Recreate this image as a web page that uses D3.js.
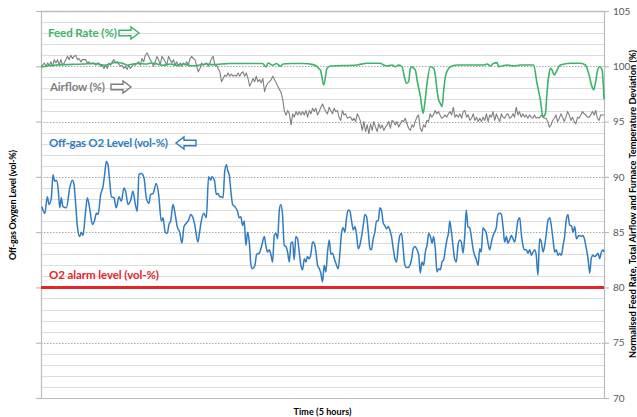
<!DOCTYPE html>
<html>
<head>
<meta charset="utf-8">
<script src="https://cdn.jsdelivr.net/npm/d3@7"></script>
<style>
  html, body { margin: 0; padding: 0; background: #ffffff; }
  svg text { font-family: Lato, "Open Sans", sans-serif; }
</style>
</head>
<body>
<div id="chart"></div>
<script>
// Step 1: Data
// =================================
// time is in minutes over the 5 hour window, values in % of the right axis
var seriesLabels = ["Feed Rate (%)", "Airflow (%)", "Off-gas O2 Level (vol-%)", "O2 alarm level (vol-%)"];
var axisTitles = {
  x: "Time (5 hours)",
  left: "Off-gas Oxygen Level (vol-%)",
  right: "Normalised Feed Rate, Total Airflow and Furnace Temperature Deviation (%)"
};
var yTicks = [70, 75, 80, 85, 90, 95, 100, 105];
var timeSpan = [0, 300];
var alarmLevel = 80;

// Feed rate: [minute, %]
var feedRate = [
  [0,99.95],[2,99.98],[4,100.05],[7,100.1],[12,100.15],[18,100.18],[23,100.2],[27,100.25],[30,100.2],
  [34,100.1],[37,100.2],[39,100.35],[43,100.3],[46,100.1],[49,100.2],[52,100.25],[56,100.2],[59,100.3],
  [62,100.2],[65,100.1],[69,100.2],[72,100.1],[76,100.2],[80,100.05],[84,100.1],[88,100.2],[92,100.15],
  [96,100.2],[100,100.25],[110,100.25],[118,100.25],[120,99.95],[121,100.3],[123.5,100.1],[125.5,100.25],
  [127.5,100.0],[129,100.2],[133,100.25],[140,100.25],[145,100.15],[147.1,99.96],[148,99.81],[148.9,99.66],
  [150.7,98.31],[152.4,99.81],[154.2,100.03],[168.4,100.12],[173.7,100.27],[180.8,100.27],[182.6,100.12],
  [184.4,100.03],[187.1,100.12],[188.8,99.96],[190.6,100.12],[192.4,99.96],[193.6,99.06],[194.7,98.46],
  [195.9,98.61],[196.8,99.81],[197.7,99.96],[198.6,99.81],[199.5,99.66],[200.4,98.76],[202.2,97.25],
  [203.6,95.74],[204.5,96.65],[205.7,98.46],[207.5,99.96],[209.3,99.81],[210.1,99.21],[211,97.86],
  [211.9,96.95],[212.8,96.65],[213.7,96.35],[214.6,97.86],[215.5,99.06],[216.7,99.66],[218.1,99.96],
  [221.7,100.12],[228.8,100.12],[235.9,100.12],[237.7,100.21],[239.5,100.03],[241.2,100.27],[243,100.33],
  [243.9,99.96],[245.7,100.03],[248.3,100.12],[251.9,100.03],[255.4,100.12],[262.5,100.12],[264.3,98.46],
  [266.1,96.95],[267.5,95.44],[268.8,95.74],[269.6,97.55],[270.5,99.06],[271.4,99.81],[272.3,99.66],
  [273.5,99.21],[275,99.66],[276.7,100.12],[282.1,100.27],[287.4,100.27],[290.1,100.12],[291.8,99.36],
  [293.6,98.16],[294.5,97.86],[295.4,98.46],[296.6,99.66],[297.7,99.96],[299,99.66],[300,97.0]
];

// Airflow: evenly spaced samples across the 5 hours, %
var airflow = [
  100.0,100.1,100.3,100.0,100.3,100.1,100.4,100.0,100.6,100.3,100.6,100.1,100.6,100.1,100.3,100.6,
  100.9,100.6,101.0,100.7,100.9,101.0,100.6,100.7,100.4,100.6,100.6,100.6,100.3,100.4,100.2,100.3,
  100.3,100.1,100.3,100.3,100.0,100.1,99.8,100.1,99.8,100.3,100.1,100.4,100.6,100.3,100.4,100.2,
  100.0,100.1,99.8,100.0,99.7,100.1,99.8,100.0,100.2,100.1,100.3,100.4,100.1,100.7,100.4,101.0,
  101.2,100.9,100.6,100.3,100.0,100.4,100.9,100.6,100.1,100.9,100.7,100.4,100.1,100.9,100.6,100.3,
  100.6,100.1,100.4,100.0,100.3,100.0,100.3,100.1,100.4,100.1,100.7,100.9,100.7,100.6,100.0,99.5,
  99.8,100.3,100.1,100.2,100.3,100.0,100.3,100.7,100.9,100.1,100.1,99.8,99.5,98.6,98.9,99.2,99.1,
  99.4,99.1,99.3,99.1,99.2,99.1,99.4,99.1,99.4,99.5,99.1,99.4,98.9,98.2,98.5,98.9,98.6,99.1,98.6,
  98.8,98.5,98.9,97.7,98.2,98.5,98.6,98.8,99.1,98.8,98.5,98.2,97.9,97.6,97.0,95.9,95.6,96.0,95.7,
  94.7,95.7,95.4,95.9,95.6,95.9,95.6,95.9,95.6,96.0,95.4,96.0,95.7,96.2,95.9,96.2,95.6,95.9,96.3,
  96.6,96.2,95.9,95.7,96.3,96.0,95.7,96.2,95.9,96.0,95.4,95.1,96.0,95.6,95.7,95.3,95.4,95.4,95.1,
  95.3,95.0,95.7,95.4,95.0,94.2,95.0,94.1,94.7,93.9,94.8,94.2,95.0,94.5,94.1,94.8,94.4,94.7,94.2,
  94.5,94.7,95.0,94.4,95.1,95.0,94.7,95.0,94.5,94.8,95.1,95.0,95.3,94.8,94.4,94.2,94.7,94.5,95.0,
  95.4,95.6,94.4,94.1,94.7,94.5,95.1,95.0,95.7,95.4,95.6,96.0,95.7,95.9,95.6,95.3,95.4,95.6,95.4,
  95.7,95.9,95.6,96.3,95.4,95.6,95.4,95.7,95.3,95.9,96.0,95.4,95.6,95.1,95.3,95.7,95.1,95.4,95.0,
  95.3,95.0,95.4,95.1,95.7,95.0,95.6,95.4,95.9,95.1,95.7,95.3,95.0,95.7,95.4,95.3,95.6,95.7,95.3,
  95.4,95.7,95.4,96.3,95.6,95.9,95.4,95.7,95.4,95.6,95.3,95.6,95.4,95.3,95.6,95.3,95.4,95.3,95.6,
  95.4,95.3,95.3,95.0,94.5,94.7,95.1,95.3,95.6,95.0,95.3,95.7,95.4,95.0,95.4,95.9,95.6,95.1,95.4,
  95.0,94.8,95.4,95.3,95.6,95.9,95.7,95.6,95.4,95.4,95.6,95.9,95.6,96.0,95.3,95.1,95.6,95.6,95.6
];

// Off-gas O2 level: [minute, value on the shared scale]
var o2Level = [
  [0.5,87.3],[2,86.7],[3.4,88.2],[4.3,87.5],[5.5,88.1],[6.4,90.2],[7.3,89.6],[8.2,89.7],[9.1,89.0],
  [10,87.2],[10.8,88.1],[11.7,87.3],[13.5,87.2],[15.3,89.0],[16.7,89.7],[17.6,89.3],[18.5,87.5],[19.4,85.5],
  [20.6,84.6],[21.5,85.0],[22.4,84.7],[23.6,86.6],[24.7,88.1],[25.9,87.2],[27.4,85.7],[28.6,86.1],[29.5,86.7],
  [30.4,86.6],[31.8,88.4],[33,89.1],[33.9,90.2],[34.8,91.4],[35.7,91.1],[36.6,89.6],[37.5,88.2],[38.9,88.1],
  [40.1,87.2],[41.6,88.2],[42.8,87.8],[44.2,89.0],[45.1,88.7],[46.4,87.5],[47.8,87.9],[49,88.7],[50.3,87.5],
  [51.3,86.9],[52.2,90.2],[53.5,90.3],[54.9,89.9],[56.1,88.1],[57.5,87.6],[58.4,88.4],[59.7,88.5],[61.4,89.4],
  [62.7,88.4],[64.1,86.0],[65,86.3],[66.2,85.0],[67.3,84.9],[68.2,85.7],[69.1,86.0],[70.3,87.5],[71.2,86.9],
  [72.6,85.5],[73.9,85.0],[75.1,84.0],[76.2,85.5],[77.4,85.8],[78.7,86.1],[79.7,86.6],[81,86.3],[81.9,85.7],
  [83.6,84.1],[84.5,85.0],[85.4,86.0],[86.8,86.7],[88.1,86.3],[89.3,90.0],[90.4,89.7],[91.1,90.0],[92.5,89.6],
  [93.4,88.4],[94.3,88.5],[95.2,88.2],[96.1,88.2],[97,88.1],[97.9,90.5],[98.8,91.1],[99.6,90.5],
  [100.3,90.2],[101.2,88.7],[102.1,87.5],[103.3,87.3],[104.7,86.9],[105.6,86.3],[106.5,86.4],[107.4,85.6],
  [108.3,86.0],[109.2,83.8],[110.1,85.0],[111,84.1],[111.9,82.0],[112.7,81.7],[114,82.0],[114.9,83.0],
  [116.3,83.1],[117.5,83.7],[119,84.6],[119.8,83.8],[120.7,83.2],[121.6,83.4],[122.5,83.0],[123.4,82.3],
  [124.3,84.7],[125.2,84.9],[126.1,84.4],[127,87.0],[127.8,87.5],[128.7,86.6],[129.6,83.8],[130.5,83.7],
  [131.4,83.2],[132.3,82.3],[133.2,84.0],[134.1,84.1],[134.9,82.5],[135.8,84.6],[136.7,84.4],[137.6,83.2],
  [138.5,82.0],[139.4,81.6],[140.3,82.6],[141.2,82.3],[142,82.8],[142.9,82.6],[143.8,83.0],[144.7,84.1],
  [145.6,84.0],[146.5,83.2],[147.4,82.0],[148.3,81.7],[149.1,81.3],[150,80.5],[150.9,82.0],[151.8,81.4],
  [152.7,83.2],[153.6,84.3],[154.5,83.0],[155.4,83.1],[156.3,82.6],[157.1,82.2],[158.4,81.7],[159.3,83.2],
  [160.2,85.0],[161,85.4],[161.9,85.0],[162.8,86.3],[163.7,87.0],[164.6,86.9],[165.5,86.0],[166.4,85.2],
  [167.3,85.5],[168.2,84.7],[169,83.5],[169.9,83.8],[170.8,84.6],[171.7,85.6],[172.6,86.6],[173.5,86.4],
  [174.4,85.0],[175.3,83.5],[176.1,83.4],[177,84.4],[177.9,85.0],[178.8,86.0],[179.7,86.0],[180.6,87.2],
  [181.5,86.9],[182.4,85.8],[183.2,85.6],[184.1,85.3],[185,85.5],[185.9,85.2],[186.8,84.6],[187.7,83.5],
  [188.6,82.6],[189.5,82.3],[190.4,83.8],[191.2,84.7],[192.1,84.9],[193,83.5],[193.9,82.0],[194.8,81.8],
  [195.7,81.8],[196.6,82.0],[197.5,82.6],[198.3,83.5],[199.2,83.7],
  [200.4,83.4],[201.3,82.9],[202.1,81.3],[203,82.3],[203.9,82.0],[204.8,83.2],[205.7,83.8],[206.6,84.9],
  [207.5,84.6],[208.4,84.0],[209.2,84.6],[210.1,83.5],[211,81.4],[211.9,81.7],[212.8,81.6],[213.7,82.3],
  [214.6,82.5],[215.5,83.5],[216.3,84.3],[217.2,85.0],[217.8,86.0],[218.7,85.0],[219.5,83.8],[220.4,82.6],
  [221.3,82.3],[222.2,83.8],[223.1,84.3],[224,84.1],[224.9,83.1],[225.8,84.7],[226.6,87.0],[227.5,85.5],
  [228.4,85.4],[229.3,84.6],[230.2,83.5],[231.1,82.9],[232,82.5],[232.9,82.0],[233.8,83.5],[234.6,83.2],
  [235.5,85.4],[236.4,85.2],[237.3,84.9],[238.2,84.0],[239.1,83.4],[240,84.1],[240.9,84.7],[241.7,85.0],
  [242.6,85.4],[243.5,86.6],[244.4,86.7],[245.3,86.6],[246.2,85.5],[247.1,84.1],[248,84.6],[248.8,84.0],
  [249.7,84.3],[250.6,84.7],[251.5,84.4],[252.4,84.1],[253.3,85.0],[254.2,86.1],[255.1,86.3],[255.9,84.9],
  [256.8,83.8],[257.7,83.4],[258.6,83.4],[259.5,83.1],[260.4,83.4],[261.3,82.9],[262.2,83.2],[263.1,83.4],
  [263.9,82.9],[264.8,81.1],[265.7,84.4],[266.6,84.1],[267.5,83.2],[268.4,83.8],[269.3,84.9],[270.2,86.1],
  [271.1,86.3],[271.9,85.6],[272.8,84.4],[273.7,83.2],[274.6,83.4],[275.5,82.9],[276.4,83.1],[277.3,82.9],
  [278.2,83.8],[279,84.6],[279.9,86.1],[280.8,86.6],[281.7,85.6],[282.6,85.6],[283.5,85.0],[284.4,85.5],
  [285.3,84.4],[286.1,84.6],[287,84.7],[287.9,84.6],[288.8,84.7],[289.7,84.3],[290.6,83.5],[291.5,82.6],
  [292.4,81.3],[293.2,82.6],[294.1,82.9],[295,82.8],[295.9,82.9],[296.8,83.1],[297.7,82.6],[298.6,83.2],
  [299.5,83.4],[300,83.2]
];

// Step 2: Set up our chart
// =================================
var svgWidth  = 637;
var svgHeight = 417;

var margin = {
  top:    11,
  right:  33,
  bottom: 19,
  left:   41
};

var width  = svgWidth  - margin.left - margin.right;
var height = svgHeight - margin.top  - margin.bottom;

var colors = {
  feed:  "#3cb46a",
  air:   "#7f7f7f",
  o2:    "#2f7cc3",
  alarm: "#e5242b",
  grid:  "#dcdcdc",
  major: "#a9a9a9",
  axis:  "#bcbcbc",
  tick:  "#595959"
};

var svg = d3.select("#chart")
  .append("svg")
  .attr("width", svgWidth)
  .attr("height", svgHeight);

var svgGroup = svg.append("g")
  .attr("transform", `translate(${margin.left}, ${margin.top})`);

// Step 3: Scales
// =================================
var xScale = d3.scaleLinear()
  .domain(timeSpan)
  .range([0, width]);

var yScale = d3.scaleLinear()
  .domain([d3.min(yTicks), d3.max(yTicks)])
  .range([height, 0]);

var airIndex = d3.scaleLinear()
  .domain([0, airflow.length - 1])
  .range(timeSpan);

// Step 4: Gridlines (minor every 1 %, dotted major every 5 %)
// =================================
var minorTicks = d3.range(d3.min(yTicks), d3.max(yTicks) + 1, 1)
  .filter(v => yTicks.indexOf(v) < 0);

svgGroup.append("g")
  .selectAll("line")
  .data(minorTicks)
  .enter().append("line")
    .attr("x1", 0)
    .attr("x2", width)
    .attr("y1", d => Math.round(yScale(d)) + 0.5)
    .attr("y2", d => Math.round(yScale(d)) + 0.5)
    .attr("stroke", colors.grid)
    .attr("stroke-width", 1);

svgGroup.append("g")
  .selectAll("line")
  .data(yTicks.filter(v => v !== d3.min(yTicks) && v !== d3.max(yTicks)))
  .enter().append("line")
    .attr("x1", 0)
    .attr("x2", width)
    .attr("y1", d => Math.round(yScale(d)) + 0.5)
    .attr("y2", d => Math.round(yScale(d)) + 0.5)
    .attr("stroke", colors.major)
    .attr("stroke-width", 1)
    .attr("stroke-dasharray", "1.5,1.5");

// top border of the plot area
svgGroup.append("line")
  .attr("x1", 0)
  .attr("x2", width)
  .attr("y1", Math.round(yScale(d3.max(yTicks))) + 0.5)
  .attr("y2", Math.round(yScale(d3.max(yTicks))) + 0.5)
  .attr("stroke", colors.axis)
  .attr("stroke-width", 1.5);

// Step 5: Axes
// =================================
var leftAxis = d3.axisLeft(yScale)
  .tickValues(yTicks)
  .tickSize(5)
  .tickFormat("");

var rightAxis = d3.axisRight(yScale)
  .tickValues(yTicks)
  .tickSize(5)
  .tickPadding(4)
  .tickFormat(d3.format("d"));

var bottomAxis = d3.axisBottom(xScale)
  .tickValues([])
  .tickSizeOuter(0);

svgGroup.append("g")
  .attr("id", "yAxisLeft")
  .call(leftAxis);

svgGroup.append("g")
  .attr("id", "yAxisRight")
  .attr("transform", `translate(${width}, 0)`)
  .call(rightAxis);

svgGroup.append("g")
  .attr("id", "xAxis")
  .attr("transform", `translate(0, ${height})`)
  .call(bottomAxis);

svgGroup.selectAll(".domain, .tick line")
  .attr("stroke", colors.axis)
  .attr("stroke-width", 1.2);

svgGroup.selectAll("#yAxisRight text")
  .attr("fill", colors.tick)
  .style("font-size", "10px");

// Step 6: Series lines
// =================================
var pairLine = d3.line()
  .x(d => xScale(d[0]))
  .y(d => yScale(d[1]));

svgGroup.append("path")
  .datum(airflow)
  .attr("fill", "none")
  .attr("stroke", colors.air)
  .attr("stroke-width", 1.1)
  .attr("stroke-linejoin", "round")
  .attr("d", d3.line()
    .x((d, i) => xScale(airIndex(i)))
    .y(d => yScale(d)));

svgGroup.append("path")
  .datum(feedRate)
  .attr("fill", "none")
  .attr("stroke", colors.feed)
  .attr("stroke-width", 1.6)
  .attr("d", pairLine.curve(d3.curveMonotoneX));

svgGroup.append("path")
  .datum(o2Level)
  .attr("fill", "none")
  .attr("stroke", colors.o2)
  .attr("stroke-width", 1.5)
  .attr("d", pairLine.curve(d3.curveMonotoneX));

svgGroup.append("path")
  .datum(timeSpan.map(t => [t, alarmLevel]))
  .attr("fill", "none")
  .attr("stroke", colors.alarm)
  .attr("stroke-width", 3)
  .attr("d", pairLine.curve(d3.curveLinear));

// Step 7: In-plot labels with outline arrows
// =================================
function arrowPath(x0, yc, dir) {
  var shaft = 12, head = 8, sh = 2.8, hh = 6;
  var p = [
    [0, -sh], [shaft, -sh], [shaft, -hh], [shaft + head, 0],
    [shaft, hh], [shaft, sh], [0, sh]
  ];
  var len = shaft + head;
  return "M" + p.map(q => {
    var px = dir > 0 ? x0 + q[0] : x0 + len - q[0];
    return px + "," + (yc + q[1]);
  }).join("L") + "Z";
}

var labelInfo = [
  {text: seriesLabels[0], color: colors.feed,  x: 7, y: 26,  w: 69,  gap: 2, arrow: 1},
  {text: seriesLabels[1], color: colors.air,   x: 9, y: 80,  w: 55,  gap: 6, arrow: 1},
  {text: seriesLabels[2], color: colors.o2,    x: 8, y: 136, w: 119, gap: 8, arrow: -1},
  {text: seriesLabels[3], color: colors.alarm, x: 8, y: 268, w: 110, gap: 0, arrow: 0}
];

labelInfo.forEach(function(d) {
  svgGroup.append("text")
    .attr("x", d.x)
    .attr("y", d.y)
    .attr("fill", d.color)
    .attr("textLength", d.w)
    .attr("lengthAdjust", "spacing")
    .style("font-size", "11.5px")
    .style("font-weight", "bold")
    .text(d.text);
  if (d.arrow !== 0) {
    svgGroup.append("path")
      .attr("d", arrowPath(d.x + d.w + d.gap, d.y - 4, d.arrow))
      .attr("fill", "none")
      .attr("stroke", d.color)
      .attr("stroke-width", 1.4);
  }
});

// Step 8: Axis titles
// =================================
svg.append("text")
  .attr("x", margin.left + width / 2)
  .attr("y", svgHeight - 2)
  .attr("text-anchor", "middle")
  .attr("textLength", 58)
  .style("font-size", "9px")
  .style("font-weight", "bold")
  .text(axisTitles.x);

svg.append("text")
  .attr("transform", `translate(16, 205) rotate(-90)`)
  .attr("text-anchor", "middle")
  .attr("textLength", 110)
  .style("font-size", "9px")
  .style("font-weight", "bold")
  .text(axisTitles.left);

svg.append("text")
  .attr("transform", `translate(636, 204) rotate(-90)`)
  .attr("text-anchor", "middle")
  .attr("textLength", 308)
  .style("font-size", "9.2px")
  .style("font-weight", "bold")
  .text(axisTitles.right);
</script>
</body>
</html>
